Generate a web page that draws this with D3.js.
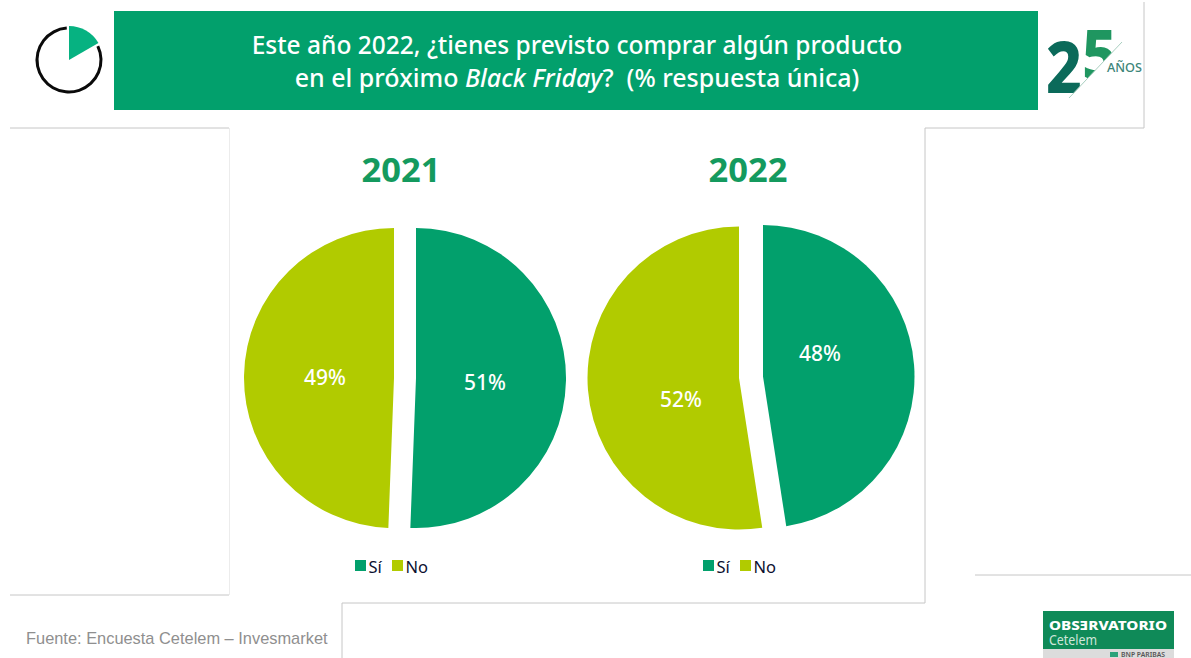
<!DOCTYPE html>
<html>
<head>
<meta charset="utf-8">
<script src="https://cdn.jsdelivr.net/npm/d3@7/dist/d3.min.js"></script>
<style>
html, body { margin: 0; padding: 0; background: #fff; }
svg { display: block; }
text { font-family: "Noto Sans", sans-serif; white-space: pre; }
</style>
</head>
<body>
<div id="chart"></div>
<script>
// Chart data
var years = ["2021", "2022"];
var categories = ["Sí", "No"];
var values2021 = [50.6, 49.4];
var values2022 = [47.5, 52.4];
var titleLines = ["Este año 2022, ¿tienes previsto comprar algún producto", "en el próximo "];
var source = "Fuente: Encuesta Cetelem – Invesmarket";

var green = "#02a06c";
var lime = "#b1cb00";

var svg = d3.select("#chart").append("svg").attr("width", 1191).attr("height", 658);

// thin grey frames left over from the slide
var frames = [
    [[1144, 2], [1144, 128], [925, 128], [925, 603], [342, 603], [342, 658]],
    [[10, 128], [229, 128]],
    [[10, 595], [229, 595]],
    [[975, 575], [1191, 575]]
];
svg.selectAll("path.frame").data(frames).enter().append("path")
    .attr("class", "frame")
    .attr("d", d3.line())
    .attr("fill", "none")
    .attr("stroke", "#c6c6c6")
    .attr("stroke-width", 1);
svg.append("line").attr("x1", 229.5).attr("y1", 128).attr("x2", 229.5).attr("y2", 595)
    .attr("stroke", "#ececec");

// header band
svg.append("rect").attr("x", 114).attr("y", 11).attr("width", 924).attr("height", 99).attr("fill", green);
var t1 = svg.append("text").attr("x", 577).attr("y", 54).attr("text-anchor", "middle")
    .attr("font-size", 24.5).attr("font-weight", 500).attr("fill", "#fff").text(titleLines[0]);
var t2 = svg.append("text").attr("x", 577).attr("y", 87).attr("text-anchor", "middle")
    .attr("font-size", 25).attr("font-weight", 500).attr("fill", "#fff");
t2.append("tspan").text(titleLines[1]);
t2.append("tspan").attr("font-style", "italic").text("Black Friday");
t2.append("tspan").text("?  (% respuesta única)");

// clock icon
var clock = svg.append("g").attr("transform", "translate(69,60)");
var arcClock = d3.arc();
clock.append("path")
    .attr("d", arcClock({innerRadius: 30.5, outerRadius: 33.5, startAngle: 1.12, endAngle: Math.PI * 2 - 0.07}))
    .attr("fill", "#0a0a0a");
clock.append("path")
    .attr("d", arcClock({innerRadius: 0, outerRadius: 34, startAngle: 0, endAngle: Math.PI / 3}))
    .attr("fill", "#06b281");

// 25 años logo, digits are cut off by the diagonal
svg.append("clipPath").attr("id", "logoCut").append("polygon")
    .attr("points", "1069,98 1122,42 1122,20 1040,20 1040,98");
var logo = svg.append("g");
var digits = logo.append("g").attr("clip-path", "url(#logoCut)");
digits.append("text").attr("x", 1046).attr("y", 93).attr("font-size", 71).attr("font-weight", 800)
    .attr("fill", "#0b6a5a").attr("textLength", 36).attr("lengthAdjust", "spacingAndGlyphs").text("2");
digits.append("text").attr("x", 1082).attr("y", 79).attr("font-size", 68).attr("font-weight", 800)
    .attr("fill", "#1f9660").attr("textLength", 35).attr("lengthAdjust", "spacingAndGlyphs").text("5");
logo.append("line").attr("x1", 1069).attr("y1", 98).attr("x2", 1122).attr("y2", 42)
    .attr("stroke", "#a9cfc0").attr("stroke-width", 1);
logo.append("text").attr("x", 1107).attr("y", 72).attr("font-size", 13).attr("font-weight", 500)
    .attr("fill", "#3d8579").attr("textLength", 35).attr("lengthAdjust", "spacingAndGlyphs").text("AÑOS");

// pies
var pie = d3.pie().sort(null).value(function(d) { return d; });

function drawPie(opts) {
    var slices = pie(opts.values);
    var arc = d3.arc().innerRadius(0).outerRadius(opts.r);
    var g = svg.append("g");
    g.append("text").attr("x", opts.titleX).attr("y", 182).attr("text-anchor", "middle")
        .attr("font-size", 34.5).attr("font-weight", 700).attr("fill", "#149a5e").text(opts.year);
    slices.forEach(function(s, i) {
        var c = opts.centers[i];
        g.append("path")
            .attr("transform", "translate(" + c[0] + "," + c[1] + ")")
            .attr("d", arc(s))
            .attr("fill", i == 0 ? green : lime);
        g.append("text")
            .attr("x", opts.labels[i][0]).attr("y", opts.labels[i][1])
            .attr("text-anchor", "middle")
            .attr("font-size", 21).attr("font-weight", 500).attr("fill", "#fff")
            .text(d3.format(".0f")(s.data) + "%");
    });
    // legend
    categories.forEach(function(name, i) {
        var x = opts.legendX + i * 37;
        g.append("rect").attr("x", x).attr("y", 560).attr("width", 11).attr("height", 11)
            .attr("fill", i == 0 ? green : lime);
        g.append("text").attr("x", x + 13.5).attr("y", 573).attr("font-size", 16.5)
            .attr("fill", "#0c1030").text(name);
    });
}

drawPie({year: years[0], values: values2021, r: 150, titleX: 401, legendX: 355,
    centers: [[416, 378], [394, 378]], labels: [[485, 390], [325, 385]]});
drawPie({year: years[1], values: values2022, r: 151.5, titleX: 748, legendX: 703,
    centers: [[763, 376.5], [739, 378]], labels: [[820, 361], [681, 407]]});

// source
svg.append("text").attr("x", 26).attr("y", 644).attr("font-size", 16.4)
    .style("font-family", "Liberation Sans, Arial, sans-serif")
    .attr("fill", "#8f8f8f").text(source);

// observatorio logo
svg.append("rect").attr("x", 1043).attr("y", 611).attr("width", 131).attr("height", 38).attr("fill", "#0f8a58");
svg.append("rect").attr("x", 1043).attr("y", 649).attr("width", 131).attr("height", 9).attr("fill", "#dcdcdc");
svg.append("text").attr("x", 1049).attr("y", 630).attr("font-size", 12.5).attr("font-weight", 800)
    .attr("fill", "#fff").attr("textLength", 118).attr("lengthAdjust", "spacingAndGlyphs").text("OBSƎRVATORIO");
svg.append("text").attr("x", 1049).attr("y", 645).attr("font-size", 13.5)
    .attr("fill", "#cfe6da").attr("textLength", 48).attr("lengthAdjust", "spacingAndGlyphs").text("Cetelem");
svg.append("rect").attr("x", 1110).attr("y", 652).attr("width", 8).attr("height", 5).attr("fill", "#2aa37a");
svg.append("text").attr("x", 1121).attr("y", 656.5).attr("font-size", 6.5).attr("font-weight", 600)
    .attr("fill", "#555").attr("textLength", 44).attr("lengthAdjust", "spacingAndGlyphs").text("BNP PARIBAS");
</script>
</body>
</html>
